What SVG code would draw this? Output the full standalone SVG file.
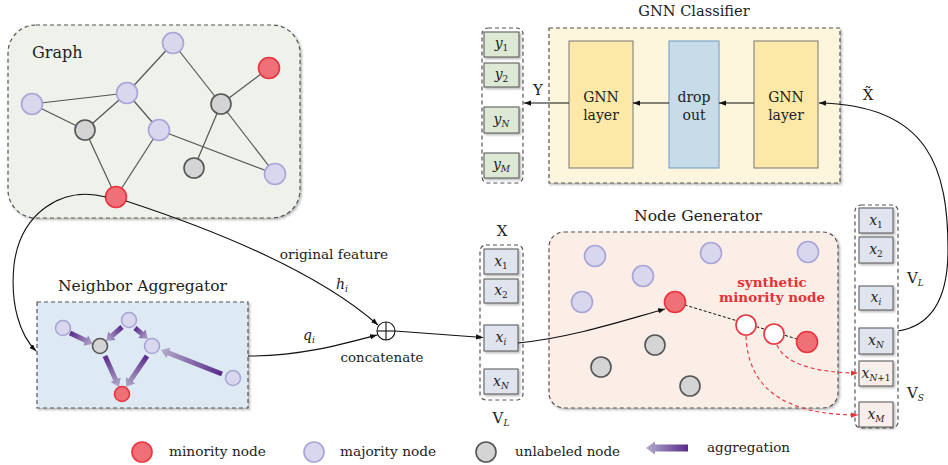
<svg xmlns="http://www.w3.org/2000/svg" width="948" height="465" viewBox="0 0 948 465">
<defs>
<style>
.t{font-family:"DejaVu Serif","Liberation Serif",serif;fill:#222}
.m{font-family:"DejaVu Serif","Liberation Serif",serif;font-style:italic;fill:#222}
.up{font-style:normal}
.panel{stroke:#555;stroke-width:1.2;stroke-dasharray:4 3}
.maj{fill:#d9d7ee;stroke:#a8a4d8;stroke-width:1.6}
.min{fill:#f07078;stroke:#e8353f;stroke-width:1.6}
.unl{fill:#d4d4d4;stroke:#555;stroke-width:1.6}
.syn{fill:#fff;stroke:#e8353f;stroke-width:1.6}
.edge{stroke:#555;stroke-width:1.2;fill:none}
.conn{stroke:#111;stroke-width:1.1;fill:none}
.rdash{stroke:#e8333b;stroke-width:1.1;fill:none;stroke-dasharray:4 3}
.xb{fill:#dfe4ef;stroke:#555;stroke-width:1}
.sb{fill:#f8efec;stroke:#555;stroke-width:1}
.yb{fill:#dde8d5;stroke:#555;stroke-width:1}
.agg{fill:url(#aggGrad)}
</style>
<linearGradient id="aggGrad" x1="0" y1="0" x2="1" y2="0">
<stop offset="0" stop-color="#5a2a8c"/>
<stop offset="1" stop-color="#b4accb"/>
</linearGradient>
<filter id="sh" x="-10%" y="-10%" width="125%" height="125%">
<feDropShadow dx="1.5" dy="1.5" stdDeviation="1.2" flood-color="#000" flood-opacity="0.3"/>
</filter>
<marker id="ah" viewBox="0 0 8 6" refX="8" refY="3" markerWidth="7" markerHeight="5.5" markerUnits="userSpaceOnUse" orient="auto">
<path d="M0,0 L8,3 L0,6 z" fill="#111"/>
</marker>
<marker id="ahr" viewBox="0 0 8 6" refX="8" refY="3" markerWidth="7" markerHeight="5.5" markerUnits="userSpaceOnUse" orient="auto">
<path d="M0,0 L8,3 L0,6 z" fill="#e8333b"/>
</marker>
</defs>

<rect width="948" height="465" fill="#fff"/>

<!-- Graph panel -->
<g id="graph">
<rect x="8" y="25" width="292" height="193" rx="28" fill="#eef2ea" class="panel" filter="url(#sh)"/>
<text class="t" x="32" y="58" font-size="16">Graph</text>
<g id="graph-edges">
<line class="edge" x1="173" y1="43" x2="127" y2="93"/>
<line class="edge" x1="173" y1="43" x2="221" y2="104"/>
<line class="edge" x1="269" y1="68" x2="221" y2="104"/>
<line class="edge" x1="32" y1="104" x2="127" y2="93"/>
<line class="edge" x1="32" y1="104" x2="85" y2="130"/>
<line class="edge" x1="85" y1="130" x2="127" y2="93"/>
<line class="edge" x1="127" y1="93" x2="159" y2="130"/>
<line class="edge" x1="85" y1="130" x2="116" y2="197"/>
<line class="edge" x1="159" y1="130" x2="116" y2="197"/>
<line class="edge" x1="159" y1="130" x2="275" y2="174"/>
<line class="edge" x1="221" y1="104" x2="194" y2="168"/>
<line class="edge" x1="221" y1="104" x2="275" y2="174"/>
</g>
<g id="g-n1"><circle class="maj" cx="173" cy="43" r="10.5"/></g>
<g id="g-n2"><circle class="min" cx="269" cy="68" r="10.5"/></g>
<g id="g-n3"><circle class="maj" cx="32" cy="104" r="10.5"/></g>
<g id="g-n4"><circle class="maj" cx="127" cy="93" r="10.5"/></g>
<g id="g-n5"><circle class="unl" cx="221" cy="104" r="10"/></g>
<g id="g-n6"><circle class="unl" cx="85" cy="130" r="10"/></g>
<g id="g-n7"><circle class="maj" cx="159" cy="130" r="10.5"/></g>
<g id="g-n8"><circle class="unl" cx="194" cy="168" r="10"/></g>
<g id="g-n9"><circle class="maj" cx="275" cy="174" r="10.5"/></g>
<g id="g-n10"><circle class="min" cx="116" cy="197" r="10.5"/></g>
</g>

<!-- Neighbor Aggregator -->
<g id="aggregator">
<text class="t" x="142.5" y="291" font-size="15.5" text-anchor="middle">Neighbor Aggregator</text>
<rect x="37" y="302" width="211" height="106" fill="#deeaf3" class="panel" filter="url(#sh)"/>
<polygon class="agg" transform="translate(70,333) rotate(25.6)" points="0,-2.5 17.5,-2.5 17.5,-5.5 25.5,0 17.5,5.5 17.5,2.5 0,2.5"/>
<polygon class="agg" transform="translate(122,327) rotate(138.8)" points="0,-2.5 13.3,-2.5 13.3,-5.5 21.3,0 13.3,5.5 13.3,2.5 0,2.5"/>
<polygon class="agg" transform="translate(135,328) rotate(40.2)" points="0,-2.5 9,-2.5 9,-5.5 17,0 9,5.5 9,2.5 0,2.5"/>
<polygon class="agg" transform="translate(222,374) rotate(-158.5)" points="0,-2.5 57.6,-2.5 57.6,-5.5 65.6,0 57.6,5.5 57.6,2.5 0,2.5"/>
<polygon class="agg" transform="translate(105,356) rotate(65.7)" points="0,-2.5 26,-2.5 26,-5.5 34,0 26,5.5 26,2.5 0,2.5"/>
<polygon class="agg" transform="translate(147,356) rotate(124.1)" points="0,-2.5 29.4,-2.5 29.4,-5.5 37.4,0 29.4,5.5 29.4,2.5 0,2.5"/>
<g id="a-n1"><circle class="maj" cx="63" cy="328" r="7.5"/></g>
<g id="a-n2"><circle class="maj" cx="129" cy="320" r="7.5"/></g>
<g id="a-n3"><circle class="unl" cx="100" cy="346" r="7.5"/></g>
<g id="a-n4"><circle class="maj" cx="152" cy="346" r="7.5"/></g>
<g id="a-n5"><circle class="maj" cx="233" cy="378" r="7.5"/></g>
<g id="a-n6"><circle class="min" cx="122" cy="394" r="7.5"/></g>
</g>

<!-- concatenate -->
<g id="concat">
<circle cx="386" cy="331" r="9" fill="#fff" stroke="#111" stroke-width="1.1"/>
<line x1="377" y1="331" x2="395" y2="331" stroke="#111" stroke-width="1.1"/>
<line x1="386" y1="322" x2="386" y2="340" stroke="#111" stroke-width="1.1"/>
</g>

<!-- X column -->
<g id="x-column">
<text class="t" x="502" y="236" font-size="15" text-anchor="middle">X</text>
<rect x="480" y="245" width="43" height="155" rx="6" fill="none" class="panel"/>
<rect class="xb" x="484" y="249" width="34" height="25" filter="url(#sh)"/>
<rect class="xb" x="484" y="279" width="34" height="24" filter="url(#sh)"/>
<rect class="xb" x="484" y="325" width="34" height="26" filter="url(#sh)"/>
<rect class="xb" x="484" y="369" width="34" height="25" filter="url(#sh)"/>
<text class="m" x="501" y="266" font-size="14" text-anchor="middle">x<tspan class="up" font-size="9" dy="3">1</tspan></text>
<text class="m" x="501" y="295" font-size="14" text-anchor="middle">x<tspan class="up" font-size="9" dy="3">2</tspan></text>
<text class="m" x="501" y="342" font-size="14" text-anchor="middle">x<tspan font-size="9" dy="3">i</tspan></text>
<text class="m" x="501" y="386" font-size="14" text-anchor="middle">x<tspan font-size="9" dy="3">N</tspan></text>
<text class="t" x="501" y="423" font-size="15" text-anchor="middle">V<tspan class="m" font-size="9" dy="3">L</tspan></text>
</g>

<!-- GNN Classifier -->
<g id="gnn-classifier">
<text class="t" x="694" y="16" font-size="14.6" text-anchor="middle">GNN Classifier</text>
<rect x="549" y="28" width="291" height="155" fill="#fdf5dc" class="panel" filter="url(#sh)"/>
<g id="gnn-layer-1">
<rect x="569" y="41" width="64" height="127" fill="#fde9a7" stroke="#777" stroke-width="1"/>
<text class="t" x="601" y="102" font-size="14" text-anchor="middle">GNN</text>
<text class="t" x="601" y="120" font-size="14" text-anchor="middle">layer</text>
</g>
<g id="dropout">
<rect x="669" y="41" width="50" height="127" fill="#c7dbe9" stroke="#6b9bc6" stroke-width="1"/>
<text class="t" x="694" y="102" font-size="14" text-anchor="middle">drop</text>
<text class="t" x="694" y="120" font-size="14" text-anchor="middle">out</text>
</g>
<g id="gnn-layer-2">
<rect x="754" y="41" width="64" height="127" fill="#fde9a7" stroke="#777" stroke-width="1"/>
<text class="t" x="786" y="102" font-size="14" text-anchor="middle">GNN</text>
<text class="t" x="786" y="120" font-size="14" text-anchor="middle">layer</text>
</g>
</g>

<!-- Y column -->
<g id="y-column">
<rect x="482" y="28" width="41" height="155" rx="6" fill="none" class="panel"/>
<rect class="yb" x="484" y="32" width="35" height="25" filter="url(#sh)"/>
<rect class="yb" x="484" y="63" width="35" height="24" filter="url(#sh)"/>
<rect class="yb" x="484" y="107" width="35" height="26" filter="url(#sh)"/>
<rect class="yb" x="484" y="153" width="35" height="25" filter="url(#sh)"/>
<text class="m" x="501.5" y="48" font-size="14" text-anchor="middle">y<tspan class="up" font-size="9" dy="3">1</tspan></text>
<text class="m" x="501.5" y="79" font-size="14" text-anchor="middle">y<tspan class="up" font-size="9" dy="3">2</tspan></text>
<text class="m" x="501.5" y="124" font-size="14" text-anchor="middle">y<tspan font-size="9" dy="3">N</tspan></text>
<text class="m" x="501.5" y="169" font-size="14" text-anchor="middle">y<tspan font-size="9" dy="3">M</tspan></text>
<text class="t" x="538" y="95" font-size="15" text-anchor="middle">Y</text>
</g>

<text class="t" x="868" y="100" font-size="15" text-anchor="middle">X̃</text>

<!-- Node Generator -->
<g id="node-generator">
<text class="t" x="698" y="221" font-size="15.6" text-anchor="middle">Node Generator</text>
<rect x="549" y="232" width="289" height="176" rx="15" fill="#fbeee6" class="panel" filter="url(#sh)"/>
<line x1="675" y1="302" x2="807" y2="342" stroke="#111" stroke-width="1" stroke-dasharray="3 2"/>
<g id="ng-n1"><circle class="maj" cx="595" cy="256" r="10.5"/></g>
<g id="ng-n2"><circle class="maj" cx="711" cy="253" r="10.5"/></g>
<g id="ng-n3"><circle class="maj" cx="808" cy="252" r="10.5"/></g>
<g id="ng-n4"><circle class="maj" cx="643" cy="276" r="10.5"/></g>
<g id="ng-n5"><circle class="maj" cx="582" cy="302" r="10.5"/></g>
<g id="ng-n6"><circle class="min" cx="675" cy="302" r="10.5"/></g>
<g id="ng-n7"><circle class="unl" cx="655" cy="345" r="10"/></g>
<g id="ng-n8"><circle class="unl" cx="601" cy="367" r="10"/></g>
<g id="ng-n9"><circle class="unl" cx="690" cy="386" r="10"/></g>
<g id="ng-s1"><circle class="syn" cx="746" cy="325" r="10"/></g>
<g id="ng-s2"><circle class="syn" cx="774" cy="334" r="10"/></g>
<g id="ng-n10"><circle class="min" cx="807" cy="342" r="10.5"/></g>
<text x="772" y="287" font-size="13.5" font-weight="bold" text-anchor="middle" font-family="DejaVu Serif, serif" fill="#e5323a">synthetic</text>
<text x="772" y="302" font-size="13.5" font-weight="bold" text-anchor="middle" font-family="DejaVu Serif, serif" fill="#e5323a">minority node</text>
</g>

<!-- Right feature column -->
<g id="xs-column">
<rect x="855" y="205" width="43" height="223" rx="6" fill="none" class="panel"/>
<rect class="xb" x="859" y="208" width="34" height="25" filter="url(#sh)"/>
<rect class="xb" x="859" y="237" width="34" height="26" filter="url(#sh)"/>
<rect class="xb" x="859" y="286" width="34" height="24" filter="url(#sh)"/>
<rect class="xb" x="859" y="328" width="34" height="26" filter="url(#sh)"/>
<rect class="sb" x="859" y="361" width="34" height="25" filter="url(#sh)"/>
<rect class="sb" x="859" y="402" width="34" height="25" filter="url(#sh)"/>
<text class="m" x="876" y="225" font-size="14" text-anchor="middle">x<tspan class="up" font-size="9" dy="3">1</tspan></text>
<text class="m" x="876" y="254" font-size="14" text-anchor="middle">x<tspan class="up" font-size="9" dy="3">2</tspan></text>
<text class="m" x="876" y="302" font-size="14" text-anchor="middle">x<tspan font-size="9" dy="3">i</tspan></text>
<text class="m" x="876" y="345" font-size="14" text-anchor="middle">x<tspan font-size="9" dy="3">N</tspan></text>
<text class="m" x="876" y="378" font-size="14" text-anchor="middle">x<tspan font-size="9" dy="3">N<tspan class="up">+1</tspan></tspan></text>
<text class="m" x="876" y="419" font-size="14" text-anchor="middle">x<tspan font-size="9" dy="3">M</tspan></text>
<text class="t" x="907" y="283" font-size="15">V<tspan class="m" font-size="9" dy="3">L</tspan></text>
<text class="t" x="907" y="398" font-size="15">V<tspan class="m" font-size="9" dy="3">S</tspan></text>
</g>

<!-- Connectors -->
<g id="connectors">
<path class="conn" d="M106,197 C60,185 20,215 14,265 C10,305 20,335 36,351" marker-end="url(#ah)"/>
<path class="conn" d="M126,201 C190,222 310,265 378,325" marker-end="url(#ah)"/>
<path class="conn" d="M248,356 C300,356 340,345 377,335" marker-end="url(#ah)"/>
<path class="conn" d="M395,331 L483,337.5" marker-end="url(#ah)"/>
<path class="conn" d="M518,343 C575,337 625,320 665,309" marker-end="url(#ah)"/>
<path class="conn" d="M898,331 C930,326 948,300 948,250 C948,170 930,105 819,103" marker-end="url(#ah)"/>
<path class="conn" d="M754,103 L719,103" marker-end="url(#ah)"/>
<path class="conn" d="M669,103 L633,103" marker-end="url(#ah)"/>
<path class="conn" d="M569,103 L524,103" marker-end="url(#ah)"/>
<path class="rdash" d="M777,345 C785,365 820,373 858,373" marker-end="url(#ahr)"/>
<path class="rdash" d="M746,336 C748,385 780,415 858,415" marker-end="url(#ahr)"/>
</g>

<!-- edge labels -->
<g id="labels">
<text class="t" x="334" y="259" font-size="13.7" text-anchor="middle">original feature</text>
<text class="m" x="336" y="289" font-size="14">h<tspan font-size="9" dy="3">i</tspan></text>
<text class="m" x="303" y="340" font-size="14">q<tspan font-size="9" dy="3">i</tspan></text>
<text class="t" x="382" y="362" font-size="13.4" text-anchor="middle">concatenate</text>
</g>

<!-- Legend -->
<g id="legend">
<g id="leg-min"><circle class="min" cx="142" cy="452" r="10"/><text class="t" x="169" y="456" font-size="13.7">minority node</text></g>
<g id="leg-maj"><circle class="maj" cx="314" cy="452" r="10"/><text class="t" x="340" y="456" font-size="13.7">majority node</text></g>
<g id="leg-unl"><circle class="unl" cx="486" cy="452" r="10"/><text class="t" x="515" y="456" font-size="13.5">unlabeled node</text></g>
<g id="leg-agg"><polygon class="agg" transform="translate(688,448) rotate(180)" points="0,-3.5 33,-3.5 33,-6.5 42,0 33,6.5 33,3.5 0,3.5"/><text class="t" x="707" y="452" font-size="13.5">aggregation</text></g>
</g>
</svg>
